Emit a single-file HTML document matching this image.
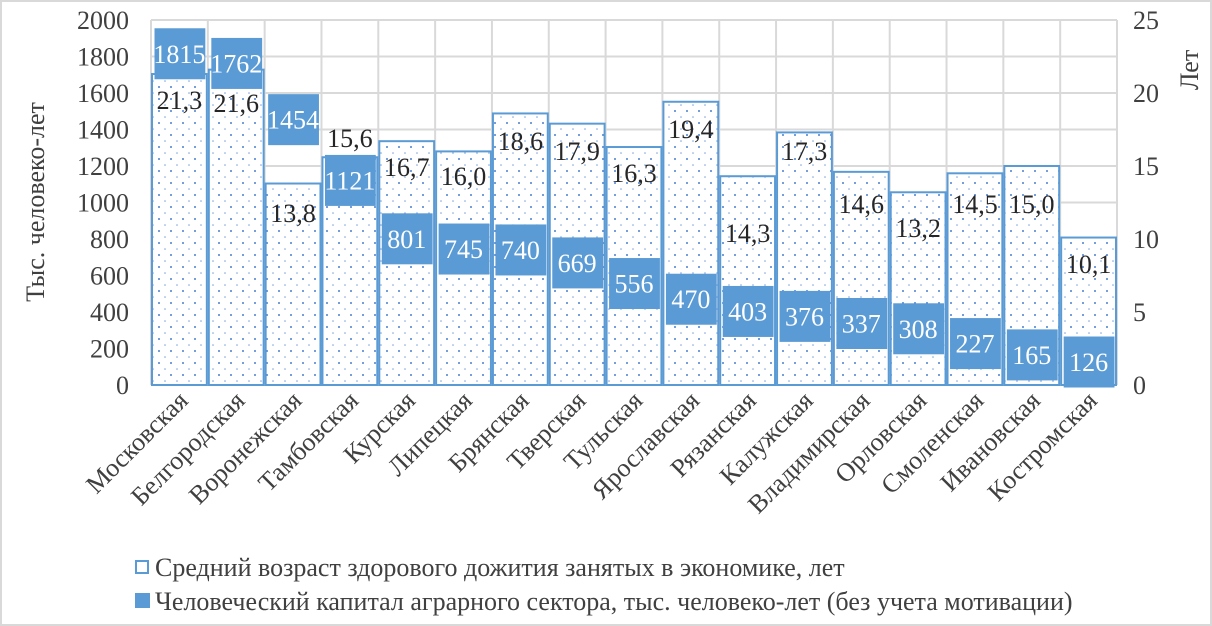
<!DOCTYPE html>
<html><head><meta charset="utf-8"><style>
html,body{margin:0;padding:0;background:#fff;}
svg{display:block;font-family:"Liberation Serif",serif;}
</style></head><body>
<svg id="c" width="1212" height="626" viewBox="0 0 1212 626" xmlns="http://www.w3.org/2000/svg">
<defs>
<pattern id="dots" width="12" height="12" patternUnits="userSpaceOnUse">
<rect width="12" height="12" fill="#fff"/>
<circle cx="3" cy="3" r="1" fill="#4a7fd0"/>
<circle cx="9" cy="9" r="0.8" fill="#7aa3dd"/>
</pattern>
</defs>
<rect x="1" y="1" width="1210" height="624" fill="#fff" stroke="#d9d9d9" stroke-width="2"/>
<g id="g"></g>
</svg>
<script>
const names=["Московская","Белгородская","Воронежская","Тамбовская","Курская","Липецкая","Брянская","Тверская","Тульская","Ярославская","Рязанская","Калужская","Владимирская","Орловская","Смоленская","Ивановская","Костромская"];
const cap=[1815,1762,1454,1121,801,745,740,669,556,470,403,376,337,308,227,165,126];
const age=[21.3,21.6,13.8,15.6,16.7,16.0,18.6,17.9,16.3,19.4,14.3,17.3,14.6,13.2,14.5,15.0,10.1];
const ly=[100,103,213,138,167,176,141,151,173,129,233,151,204,228,204,204,264];
const L=151,R=1117,T=20,B=385,W=(R-L)/17;
let s="";
for(let i=0;i<=10;i++){const y=B-i*(B-T)/10;s+=`<line x1="${L}" x2="${R}" y1="${y}" y2="${y}" stroke="#d9d9d9" stroke-width="2"/>`;
s+=`<text x="129" y="${y+9}" font-size="26" fill="#404040" text-anchor="end">${i*200}</text>`;}
for(let i=0;i<=17;i++){const x=L+i*W;s+=`<line x1="${x}" x2="${x}" y1="${T}" y2="${B}" stroke="#d9d9d9" stroke-width="2"/>`;}
for(let i=0;i<=5;i++){const y=B-i*(B-T)/5;s+=`<text x="1133" y="${y+9}" font-size="26" fill="#404040">${i*5}</text>`;}
for(let i=0;i<17;i++){const x=L+i*W;const top=B-age[i]/25*(B-T);
s+=`<rect x="${x+1}" y="${top}" width="${W-2}" height="${B-top}" fill="url(#dots)" stroke="#5b9bd5" stroke-width="2"/>`;}
for(let i=0;i<17;i++){const x=L+i*W;const cy=B-cap[i]/2000*(B-T);
s+=`<rect x="${x+3.5}" y="${cy-25.5}" width="${W-6}" height="51" fill="#5b9bd5"/>`;
s+=`<text x="${x+W/2}" y="${cy+9}" font-size="26" fill="#fff" text-anchor="middle">${cap[i]}</text>`;
s+=`<text x="${x+W/2}" y="${ly[i]+9}" font-size="26" fill="#262626" text-anchor="middle">${age[i].toFixed(1).replace('.',',')}</text>`;
const cx=x+W/2+10;
s+=`<text transform="translate(${cx},402) rotate(-45)" font-size="26" fill="#404040" text-anchor="end">${names[i]}</text>`;}
s+=`<text transform="translate(44,202) rotate(-90)" font-size="26" fill="#404040" text-anchor="middle">Тыс. человеко-лет</text>`;
s+=`<text transform="translate(1198,70) rotate(-90)" font-size="26" fill="#404040" text-anchor="middle">Лет</text>`;
s+=`<rect x="136" y="561" width="12" height="12" fill="#fff" stroke="#5b9bd5" stroke-width="2"/>`;
s+=`<text x="155" y="576" font-size="26" fill="#404040">Средний возраст здорового дожития занятых в экономике, лет</text>`;
s+=`<rect x="135" y="593" width="15" height="15" fill="#5b9bd5"/>`;
s+=`<text x="155" y="610" font-size="26" fill="#404040">Человеческий капитал аграрного сектора, тыс. человеко-лет (без учета мотивации)</text>`;
document.getElementById("g").innerHTML=s;
</script>
</body></html>
